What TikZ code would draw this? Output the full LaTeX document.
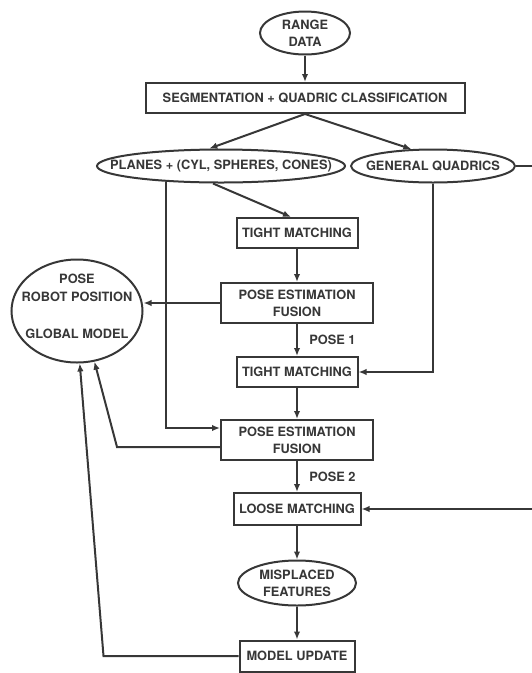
\documentclass[tikz,border=0pt]{standalone}
\usepackage{fontspec}
\setmainfont{TeX Gyre Heros}
\usepackage{tikz}
\usetikzlibrary{shapes,arrows.meta}
\definecolor{ink}{RGB}{55,55,55}

\begin{document}
\begin{tikzpicture}[x=1pt, y=-1pt, >={Latex[length=8pt,width=6.5pt]}, line width=2pt, color=ink,
    font=\fontsize{12.8}{17}\selectfont\bfseries,
    box/.style={rectangle, draw, inner sep=2pt, align=center},
    oval/.style={ellipse, draw, inner sep=0pt, align=center}]
        \useasboundingbox (0,0) rectangle (532,673);

        \node (range) [oval, minimum width=90pt, minimum height=43pt] at (305,33) {RANGE\\DATA};
        \node (seg) [box, below of=range, node distance=65pt, minimum width=319pt, minimum height=30pt] {SEGMENTATION + QUADRIC CLASSIFICATION};
        \node (planes) [oval, below of=seg, node distance=68pt, xshift=-84pt, minimum width=248pt, minimum height=33pt,
            label=center:{PLANES + (CYL, SPHERES, CONES)}] {};
        \node (gq) [oval, right of=planes, node distance=212pt, minimum width=164pt, minimum height=33pt,
            label=center:{GENERAL QUADRICS}] {};
        \node (tm1) [box, below of=seg, node distance=135pt, xshift=-8pt, minimum width=121pt, minimum height=30pt] {TIGHT MATCHING};
        \node (pef1) [box, below of=tm1, node distance=70pt, minimum width=152pt, minimum height=40pt] {POSE ESTIMATION\\FUSION};
        \node (pose) [oval, left of=pef1, node distance=220pt, yshift=-8pt, minimum width=131pt, minimum height=103pt,
            label={[align=center, yshift=5pt]center:POSE\\[1pt]ROBOT POSITION\\[20pt]GLOBAL MODEL}] {};
        \node (tm2) [box, below of=pef1, node distance=69pt, minimum width=121pt, minimum height=30pt] {TIGHT MATCHING};
        \node (pef2) [box, below of=tm2, node distance=68pt, minimum width=152pt, minimum height=40pt] {POSE ESTIMATION\\FUSION};
        \node (lm) [box, below of=pef2, node distance=69pt, minimum width=127pt, minimum height=32pt] {LOOSE MATCHING};
        \node (mis) [oval, below of=lm, node distance=74pt, minimum width=118pt, minimum height=45pt] {MISPLACED\\FEATURES};
        \node (mu) [box, below of=mis, node distance=73pt, minimum width=115pt, minimum height=31pt] {MODEL UPDATE};

        \draw [->] (range) -- (seg);
        \draw [->] (seg.south) -- (planes.124);
        \draw [->] (seg.south) -- (gq.142);
        \draw [->] ([xshift=-8pt]planes.south) -- ([xshift=-6pt]tm1.north);
        \draw [->] (tm1) -- (pef1);
        \draw [->] (pef1.west) -- (pose.east |- pef1.west);
        \draw [->] (pef1) -- (tm2)
            node [midway, right, xshift=8pt] {POSE 1};
        \draw [->] (tm2) -- (pef2);
        \draw [->] (pef2) -- (lm)
            node [midway, right, xshift=8pt] {POSE 2};
        \draw [->] (lm) -- (mis);
        \draw [->] (mis) -- (mu);

        % the side paths
        \draw [->] (planes.196) |- ([yshift=12pt]pef2.west);
        \draw [->] (gq.south) |- (tm2.east);
        \draw [->] (gq.east) -- ++(30,0) |- (lm.east);

        % feedback to the model
        \draw [->] ([yshift=-7pt]pef2.west) -- ++(-103,0) -- (pose.-71);
        \draw [->] (mu.west) -- ++(-135,0) -- (pose.-87);
    \end{tikzpicture}
\end{document}
